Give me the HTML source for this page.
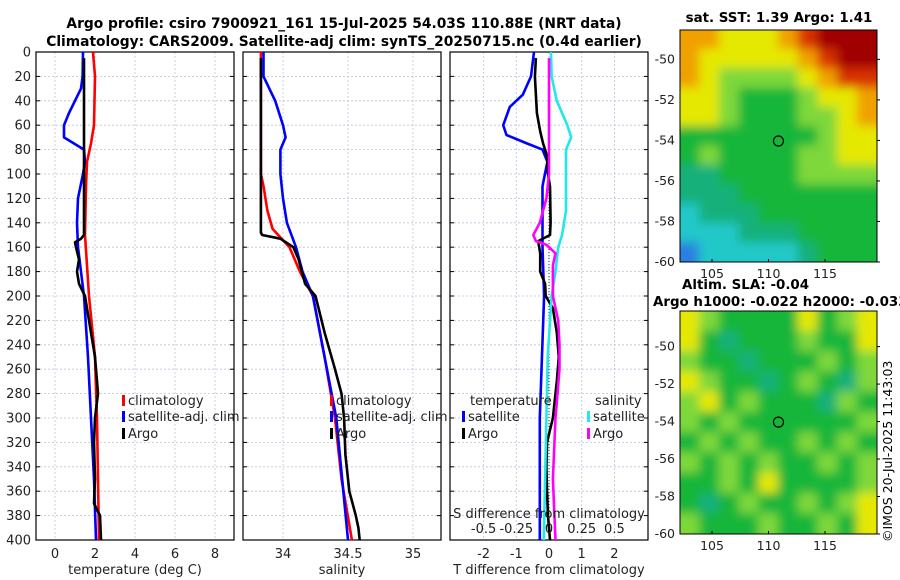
<!DOCTYPE html>
<html><head><meta charset="utf-8"><style>
html,body{margin:0;padding:0;background:#fff;}
svg{display:block;font-family:"DejaVu Sans","Liberation Sans",sans-serif;}
</style></head><body>
<svg id="fig" width="900" height="580" viewBox="0 0 900 580" xmlns="http://www.w3.org/2000/svg">
<defs>
<filter id="blur" filterUnits="userSpaceOnUse" x="600" y="0" width="300" height="580"><feGaussianBlur stdDeviation="5"/></filter>
<clipPath id="clipSst"><rect x="680" y="30" width="197" height="232"/></clipPath>
<clipPath id="clipSla"><rect x="680" y="311" width="197" height="223"/></clipPath>
</defs>
<text x="344" y="28" text-anchor="middle" font-weight="bold" font-size="13.8">Argo profile: csiro 7900921_161 15-Jul-2025 54.03S 110.88E (NRT data)</text>
<text x="344" y="46" text-anchor="middle" font-weight="bold" font-size="13.8">Climatology: CARS2009. Satellite-adj clim: synTS_20250715.nc (0.4d earlier)</text>
<text x="779" y="22" text-anchor="middle" font-weight="bold" font-size="13.4">sat. SST: 1.39 Argo: 1.41</text>
<text x="682" y="289" font-weight="bold" font-size="13.4">Altim. SLA: -0.04</text>
<text x="653" y="306" font-weight="bold" font-size="13.4">Argo h1000: -0.022 h2000: -0.033</text>
<text transform="translate(892,542) rotate(-90)" font-size="12.5">©IMOS 20-Jul-2025 11:43:03</text>
<g id="plots"></g>
</svg>
<script>
// ---------- data ----------
const depthTicks = [0,20,40,60,80,100,120,140,160,180,200,220,240,260,280,300,320,340,360,380,400];
const tempTicks = [0,2,4,6,8];
const salTicks = [34,34.5,35];
const tdiffTicks = [-2,-1,0,1,2];
const sdiffTicks = [-0.5,-0.25,0,0.25,0.5];

const climTDepth = [0,20,60,75,90,110,150,200,250,300,350,400];
const climT      = [1.9,2.0,1.95,1.8,1.6,1.55,1.5,1.7,2.0,2.1,2.15,2.2];
const argoTDepth = [5,150,153,156,160,170,180,190,200,220,250,280,300,320,350,370,380,400];
const argoT      = [1.45,1.45,1.3,1.0,1.05,1.2,1.1,1.2,1.5,1.7,2.0,2.15,2.0,1.95,2.0,1.95,2.25,2.3];
const satTDepth  = [0,20,30,40,50,60,70,80,90,100,120,140,160,200,250,300,350,400];
const satT       = [1.4,1.38,1.3,1.0,0.7,0.45,0.45,1.45,1.5,1.4,1.15,1.1,1.15,1.45,1.65,1.8,1.95,2.05];

const climSDepth = [0,100,110,130,145,160,180,200,250,300,350,400];
const climS      = [33.83,33.83,33.85,33.88,33.92,34.05,34.13,34.23,34.32,34.4,34.45,34.53];
const argoSDepth = [5,148,150,153,160,170,190,200,230,260,280,300,330,360,380,390,400];
const argoS      = [33.83,33.83,33.84,33.98,34.08,34.12,34.17,34.25,34.32,34.4,34.45,34.47,34.48,34.51,34.56,34.58,34.59];
const satSDepth  = [0,20,40,60,70,80,100,120,140,160,180,200,300,400];
const satS       = [33.85,33.85,33.94,34.0,34.02,33.98,33.98,34.0,34.03,34.1,34.15,34.23,34.41,34.5];

const satTdDepth = [0,20,35,45,60,68,75,80,90,110,160,200,300,400];
const satTd      = [-0.46,-0.55,-0.8,-1.2,-1.4,-1.3,-0.67,-0.2,-0.05,-0.2,-0.2,-0.15,-0.28,-0.28];
const argoTdDepth= [5,20,50,65,75,85,100,110,140,150,155,165,180,190,200,210,230,250,270,300,320,340,360,380,400];
const argoTd     = [-0.4,-0.43,-0.37,-0.27,-0.18,-0.06,-0.03,0.03,0.05,0.03,-0.33,-0.27,-0.27,-0.12,-0.1,0.12,0.24,0.3,0.24,0.12,-0.06,-0.08,-0.06,-0.03,0.03];
const satSdDepth = [0,20,40,60,70,80,100,130,150,160,180,200,250,300,400];
const satSd      = [0.015,0.02,0.06,0.14,0.17,0.13,0.13,0.13,0.1,0.07,0.05,0.02,-0.01,-0.02,-0.04];
const argoSdDepth= [5,100,120,140,150,155,158,165,175,200,220,240,260,300,350,400];
const argoSd     = [0,0,-0.02,-0.07,-0.12,-0.1,-0.02,0.05,0.03,0.03,0.07,0.08,0.08,0.05,0.03,0.05];

const mapLonTicks = [105,110,115];
const mapLatTicks = [-50,-52,-54,-56,-58,-60];
const sstGrid = [
 [6,6,5,5,5,6,7,8,8,8],
 [6,5,5,5,5,5,6,7,8,8],
 [6,5,4,4,4,4,5,6,7,7],
 [5,5,4,3,3,3,4,5,5,6],
 [5,5,4,3,3,3,4,4,5,6],
 [3,3,3,3,3,3,3,4,5,5],
 [3,4,3,3,3,3,4,4,5,5],
 [2,2,3,3,3,3,4,4,4,4],
 [2,2,2,3,3,3,3,3,3,3],
 [1,2,2,2,3,3,3,3,3,3],
 [1,1,1,2,2,2,3,3,3,3],
 [0,1,1,1,1,1,2,3,3,3]];
const slaGrid = [
 [5,4,3,3,3,3,5,3,4,5],
 [5,3,2,3,3,3,4,3,3,5],
 [4,3,3,2,3,3,3,4,3,4],
 [5,4,3,3,2,3,4,3,2,4],
 [4,5,3,4,3,3,3,2,4,3],
 [4,3,4,3,3,3,3,3,3,4],
 [3,4,3,4,3,3,4,3,4,3],
 [4,3,4,3,4,3,3,4,3,4],
 [3,3,4,3,5,3,3,3,3,4],
 [3,2,3,4,3,3,4,3,4,5],
 [4,3,3,3,4,3,3,4,3,5]];
const mapColors = ['#2c7fe0','#23c8c8','#18b07a','#17b63a','#7ed83a','#e5e800','#f0a000','#d83000','#a00000'];

// ---------- helpers ----------
const NS='http://www.w3.org/2000/svg';
const root=document.getElementById('plots');
function mk(tag,attrs,parent){const e=document.createElementNS(NS,tag);for(const k in attrs)e.setAttribute(k,attrs[k]);(parent||root).appendChild(e);return e;}
const Y0=52,Y1=540;
const FS=13;
const yD = d => Y0 + d*(Y1-Y0)/400;
function lin(d0,d1,r0,r1){return v=>r0+(v-d0)*(r1-r0)/(d1-d0);}

function panel(name,x0,x1,xfn,ticks,fmt,xlabel,ylabels){
  const g=mk('g',{});
  
  
  depthTicks.forEach(d=>{
    const l=mk('line',{x1:x0,x2:x1,y1:yD(d),y2:yD(d),stroke:'#b8c4dc','stroke-width':0.8,'stroke-dasharray':'2,2'},g);
    
    
    mk('line',{x1:x0,x2:x0+4,y1:yD(d),y2:yD(d),stroke:'#000'},g);
    mk('line',{x1:x1-4,x2:x1,y1:yD(d),y2:yD(d),stroke:'#000'},g);
    if(ylabels){const t=mk('text',{x:x0-5,y:yD(d)+4.5,'text-anchor':'end','font-size':FS,fill:'#222'},g);t.textContent=d;
      
      }
  });
  ticks.forEach(v=>{
    const x=xfn(v);
    const l=mk('line',{x1:x,x2:x,y1:Y0,y2:Y1,stroke:'#b8c4dc','stroke-width':0.8,'stroke-dasharray':'2,2'},g);
    
    
    const t=mk('text',{x:x,y:558,'text-anchor':'middle','font-size':FS,fill:'#222'},g);t.textContent=fmt(v);
    
    
  });
  const r=mk('rect',{x:x0,y:Y0,width:x1-x0,height:Y1-Y0,fill:'none',stroke:'#000','stroke-width':1.2},g);
  
  
  const lab=mk('text',{x:(x0+x1)/2,y:574,'text-anchor':'middle','font-size':FS,fill:'#222'},g);lab.textContent=xlabel;
  
  
  return g;
}
function series(name,depths,vals,xfn,color,w){
  const pts=depths.map((d,i)=>xfn(vals[i]).toFixed(1)+','+yD(d).toFixed(1)).join(' ');
  const p=mk('polyline',{points:pts,fill:'none',stroke:color,'stroke-width':w||2.6,'stroke-linejoin':'round'});
  
  
}
function legend(name,x,y,color,label){
  const g=mk('g',{});
  
  
  mk('rect',{x:x,y:y-10,width:3,height:11,fill:color},g);
  const t=mk('text',{x:x+6,y:y,'font-size':FS,fill:'#222'},g);t.textContent=label;
}

// ---------- panel 1: temperature ----------
const xT=lin(0,2,55,95);
panel('temperature-panel',36,234,xT,tempTicks,v=>v,'temperature (deg C)',true);
series('temperature-climatology-line',climTDepth,climT,xT,'#ff0000');
series('temperature-satellite-line',satTDepth,satT,xT,'#0000ff');
series('temperature-argo-line',argoTDepth,argoT,xT,'#000000');
legend('legend-climatology',122,405,'#ff0000','climatology');
legend('legend-satellite-adj',122,421,'#0000ff','satellite-adj. clim');
legend('legend-argo',122,438,'#000','Argo');

// ---------- panel 2: salinity ----------
const xS=lin(34,34.5,283,348);
panel('salinity-panel',243,441,xS,salTicks,v=>v,'salinity',false);
series('salinity-climatology-line',climSDepth,climS,xS,'#ff0000');
series('salinity-satellite-line',satSDepth,satS,xS,'#0000ff');
series('salinity-argo-line',argoSDepth,argoS,xS,'#000000');
legend('legend-climatology-2',330,405,'#ff0000','climatology');
legend('legend-satellite-adj-2',330,421,'#0000ff','satellite-adj. clim');
legend('legend-argo-2',330,438,'#000','Argo');

// ---------- panel 3: differences ----------
const xTd=lin(0,1,549,581.7);
const xSd=lin(0,0.25,549,581.7);
panel('difference-panel',450,648,xTd,tdiffTicks,v=>v,'T difference from climatology',false);
const zl=mk('line',{x1:xTd(0),x2:xTd(0),y1:yD(100),y2:Y1,stroke:'#333','stroke-width':1,'stroke-dasharray':'1,2'});


series('tdiff-satellite-line',satTdDepth,satTd,xTd,'#0000ff');
series('tdiff-argo-line',argoTdDepth,argoTd,xTd,'#000000');
series('sdiff-satellite-line',satSdDepth,satSd,xSd,'#22e8e8');
series('sdiff-argo-line',argoSdDepth,argoSd,xSd,'#ff00ff');
sdiffTicks.forEach(v=>{const t=mk('text',{x:xSd(v),y:533,'text-anchor':'middle','font-size':FS,fill:'#222'});t.textContent=v;
  
  });
const st=mk('text',{x:549,y:518,'text-anchor':'middle','font-size':FS,fill:'#222'});st.textContent='S difference from climatology';


const lt=mk('text',{x:470,y:405,'font-size':FS,fill:'#222'});lt.textContent='temperature';


const ls=mk('text',{x:595,y:405,'font-size':FS,fill:'#222'});ls.textContent='salinity';


legend('legend-t-satellite',462,421,'#0000ff','satellite');
legend('legend-t-argo',462,438,'#000','Argo');
legend('legend-s-satellite',587,421,'#22e8e8','satellite');
legend('legend-s-argo',587,438,'#ff00ff','Argo');

// ---------- maps ----------
function mapPanel(name,grid,x0,y0,w,h,latTop,latBot,clip){
  const g=mk('g',{});
  
  
  const cg=mk('g',{'clip-path':'url(#'+clip+')'},g);
  const ig=mk('g',{filter:'url(#blur)'},cg);
  const rows=grid.length, cols=grid[0].length;
  const cw=w/cols, ch=h/rows, pad=15;
  grid.forEach((row,r)=>row.forEach((v,c)=>{
    let x=x0+c*cw-0.5, y=y0+r*ch-0.5, ww=cw+1, hh=ch+1;
    if(c===0){x-=pad;ww+=pad;} if(c===cols-1){ww+=pad;}
    if(r===0){y-=pad;hh+=pad;} if(r===rows-1){hh+=pad;}
    mk('rect',{x:x.toFixed(1),y:y.toFixed(1),width:ww.toFixed(1),height:hh.toFixed(1),fill:mapColors[v]},ig);
  }));
  const lonX=lin(105,110,712,768.5);
  const yMap=v=>y0+(v-latTop)/(latBot-latTop)*h;
  mk('rect',{x:x0,y:y0,width:w,height:h,fill:'none',stroke:'#000','stroke-width':1},g);
  mapLonTicks.forEach(v=>{const t=mk('text',{x:lonX(v),y:y0+h+16,'text-anchor':'middle','font-size':12.5,fill:'#222'},g);t.textContent=v;
    
    
    mk('line',{x1:lonX(v),x2:lonX(v),y1:y0+h,y2:y0+h-3,stroke:'#000'},g);});
  mapLatTicks.forEach(v=>{const t=mk('text',{x:x0-5,y:yMap(v)+4,'text-anchor':'end','font-size':12.5,fill:'#222'},g);t.textContent=v;
    
    
    mk('line',{x1:x0+w,x2:x0+w+3,y1:yMap(v),y2:yMap(v),stroke:'#000'},g);});
  const m=mk('circle',{cx:lonX(110.88),cy:yMap(-54.03),r:5,fill:'none',stroke:'#000','stroke-width':1.2},g);
  
  
}
mapPanel('sst-map',sstGrid,680,30,197,232,-48.55,-60.0,'clipSst');
mapPanel('sla-map',slaGrid,680,311,197,223,-48.1,-60.0,'clipSla');
</script>
</body></html>
